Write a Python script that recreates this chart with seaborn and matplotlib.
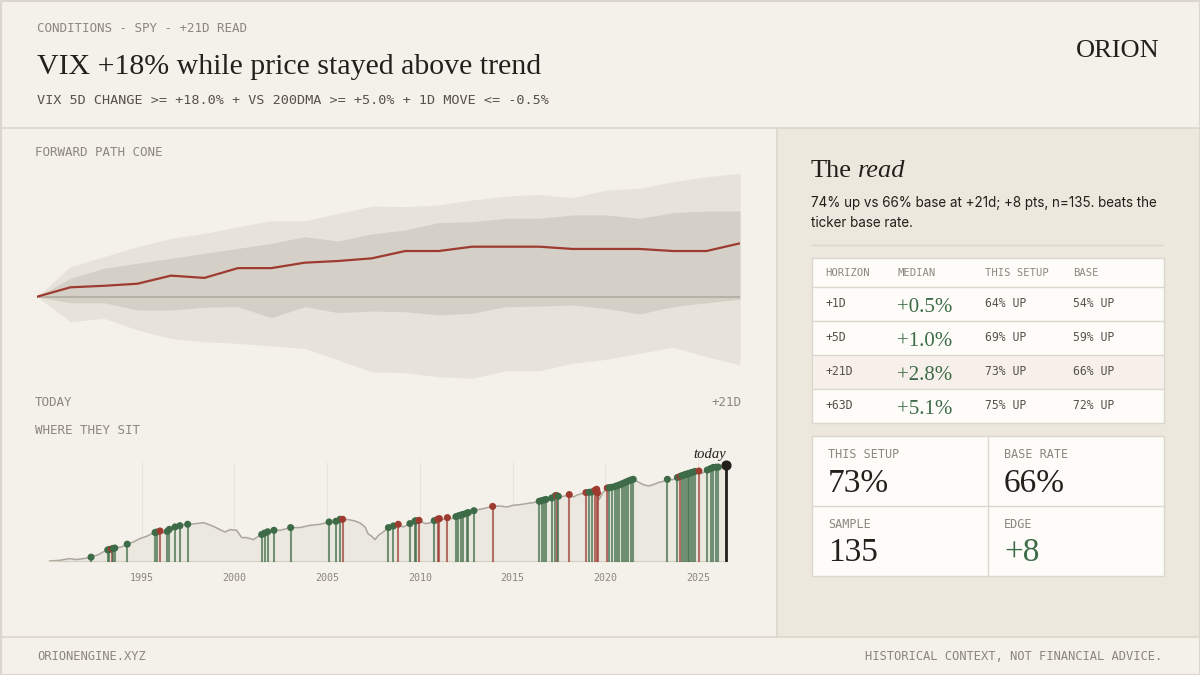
import matplotlib
matplotlib.use("Agg")
import matplotlib.pyplot as plt
from matplotlib.patches import Rectangle
import numpy as np
import seaborn as sns

sns.set_theme(style="white")

# forward path cone, % move from today, trading day 0..21
days = list(range(22))
cone_median = [0, 0.50, 0.58, 0.69, 1.12, 1.00, 1.52, 1.52, 1.81, 1.90, 2.04,
               2.43, 2.43, 2.66, 2.66, 2.66, 2.54, 2.54, 2.54, 2.43, 2.43, 2.84]
cone_p75 = [0, 0.98, 1.51, 1.78, 2.04, 2.31, 2.57, 2.84, 3.19, 2.96, 3.34,
            3.55, 3.94, 3.99, 4.17, 4.17, 4.35, 4.35, 4.17, 4.47, 4.56, 4.56]
cone_p25 = [0, -0.32, -0.32, -0.71, -0.71, -0.56, -0.53, -1.12, -0.53, -0.85, -0.76,
            -0.80, -0.97, -0.88, -0.53, -0.50, -0.44, -0.62, -0.92, -0.53, -0.32, -0.14]
cone_p90 = [0, 1.60, 2.13, 2.66, 3.10, 3.37, 3.72, 4.04, 4.04, 4.43, 4.82,
            4.79, 4.88, 5.14, 5.35, 5.44, 5.27, 5.67, 5.76, 6.12, 6.38, 6.56]
cone_p10 = [0, -1.33, -1.15, -1.77, -2.22, -2.39, -2.48, -2.62, -2.75, -3.37, -3.99,
            -4.04, -4.26, -4.34, -3.94, -3.94, -3.54, -3.33, -3.01, -2.69, -3.19, -3.63]

# price history (relative level)
price_years = [1990.02, 1990.6, 1991.1, 1991.5, 1991.85, 1992.2, 1992.66, 1993.1, 1993.56, 1993.9,
               1994.2, 1994.55, 1994.9, 1995.27, 1995.63, 1995.99, 1996.26, 1996.53, 1996.9, 1997.43,
               1997.97, 1998.32, 1998.59, 1998.86, 1999.22, 1999.49, 1999.76, 2000.12, 2000.39, 2000.66,
               2001.02, 2001.38, 2001.74, 2002.13, 2002.46, 2003.03, 2003.53, 2004.07, 2004.61, 2005.1,
               2005.47, 2005.69, 2005.83, 2006.14, 2006.5, 2006.77, 2007.04, 2007.2, 2007.4, 2007.58,
               2007.76, 2008.02, 2008.3, 2008.56, 2008.83, 2009.1, 2009.46, 2009.73, 2009.97, 2010.27,
               2010.54, 2010.81, 2011.04, 2011.26, 2011.47, 2011.71, 2011.98, 2012.34, 2012.7, 2012.97,
               2013.42, 2013.95, 2014.32, 2014.68, 2015.03, 2015.4, 2015.75, 2016.11, 2016.43, 2016.83,
               2017.1, 2017.33, 2017.55, 2017.82, 2018.05, 2018.27, 2018.53, 2018.95, 2019.26, 2019.53,
               2019.67, 2019.89, 2020.1, 2020.43, 2020.7, 2021.05, 2021.32, 2021.5, 2021.77, 2022.04,
               2022.31, 2022.58, 2022.85, 2023.12, 2023.34, 2023.66, 2023.93, 2024.29, 2024.65, 2025.0,
               2025.19, 2025.46, 2025.82, 2026.18, 2026.5]
price_level = [1.0, 1.7, 3.4, 2.4, 3.4, 4.4, 7.4, 11.7, 14.0, 15.0,
               17.7, 20.0, 23.4, 25.7, 29.0, 31.0, 28.4, 33.4, 35.7, 37.7,
               38.4, 39.4, 37.7, 35.7, 32.4, 30.0, 32.4, 31.7, 24.4, 24.4,
               22.4, 26.7, 30.0, 31.7, 31.7, 34.4, 34.4, 36.7, 37.7, 40.0,
               40.7, 42.7, 42.7, 42.4, 41.0, 39.0, 35.0, 28.4, 25.7, 22.4,
               26.7, 30.0, 34.4, 36.0, 37.7, 35.0, 38.4, 41.0, 41.7, 38.4,
               39.0, 41.7, 43.4, 42.4, 44.4, 43.4, 45.7, 47.7, 50.0, 51.7,
               53.4, 55.7, 56.0, 55.0, 56.7, 57.4, 58.4, 59.4, 60.7, 62.7,
               64.0, 66.7, 65.0, 66.0, 67.4, 65.0, 67.4, 69.4, 70.0, 72.7,
               62.7, 70.0, 74.0, 75.0, 76.7, 79.4, 81.7, 82.7, 80.0, 77.4,
               76.0, 77.4, 79.4, 80.7, 82.7, 82.4, 85.0, 87.4, 89.4, 91.7,
               88.4, 91.7, 94.7, 95.0, 96.7]

# past signal dates and whether +21d was up
event_years = [1992.27, 1993.17, 1993.25, 1993.38, 1993.47, 1993.55, 1994.22, 1995.72, 1995.81, 1995.99,
               1996.38, 1996.49, 1996.8, 1997.06, 1997.48, 2001.47, 2001.62, 2001.79, 2002.13, 2003.03,
               2005.1, 2005.47, 2005.69, 2005.83, 2008.3, 2008.57, 2008.83, 2009.46, 2009.73, 2009.79,
               2009.95, 2010.77, 2010.96, 2011.05, 2011.48, 2011.94, 2012.07, 2012.2, 2012.34, 2012.52,
               2012.61, 2012.91, 2013.92, 2016.43, 2016.56, 2016.68, 2016.79, 2017.1, 2017.3, 2017.37,
               2017.46, 2018.05, 2018.95, 2019.13, 2019.26, 2019.44, 2019.53, 2019.58, 2020.1, 2020.21,
               2020.34, 2020.52, 2020.61, 2020.75, 2020.88, 2021.0, 2021.12, 2021.24, 2021.37, 2021.5,
               2023.34, 2023.88, 2024.02, 2024.11, 2024.23, 2024.34, 2024.43, 2024.52, 2024.61, 2024.7,
               2024.82, 2025.04, 2025.49, 2025.67, 2025.81, 2025.96, 2026.08]
event_up = [1, 1, 1, 0, 1, 1, 1, 1, 1, 0,
            1, 1, 1, 1, 1, 1, 1, 1, 1, 1,
            1, 1, 1, 0, 1, 1, 0, 1, 1, 1,
            0, 1, 0, 0, 0, 1, 1, 1, 1, 1,
            1, 1, 0, 1, 1, 1, 1, 1, 1, 0,
            1, 0, 0, 1, 1, 0, 0, 0, 0, 1,
            1, 1, 1, 1, 1, 1, 1, 1, 1, 1,
            1, 1, 0, 1, 1, 1, 1, 1, 1, 1,
            1, 0, 1, 1, 1, 1, 1]
tick_years = [1995, 2000, 2005, 2010, 2015, 2020, 2025]

# table
horizons = ["+1D", "+5D", "+21D", "+63D"]
medians = ["+0.5%", "+1.0%", "+2.8%", "+5.1%"]
setup_up = ["64% UP", "69% UP", "73% UP", "75% UP"]
base_up = ["54% UP", "59% UP", "66% UP", "72% UP"]
stat_labels = ["THIS SETUP", "BASE RATE", "SAMPLE", "EDGE"]
stat_values = ["73%", "66%", "135", "+8"]

BG = "#f4f1ea"
PANEL = "#ece8de"
RULE = "#dcd7cc"
INK = "#23201c"
MUTED = "#8c877e"
SUB = "#56524b"
RED = "#9e3b30"
GREEN = "#3d6b47"
CONE_OUT = "#e7e3db"
CONE_IN = "#d4d0c8"
ZERO = "#b8b2a6"
PRICE = "#aca69c"
PRICE_FILL = "#ebe8e0"
CARD = "#fdfcf8"
HILITE = "#f7f0ea"
SERIF = "Liberation Serif"
MONO = "DejaVu Sans Mono"
SANS = "Inter"

W, H = 1200, 675
fig = plt.figure(figsize=(12, 6.75), dpi=100)
fig.patch.set_facecolor(BG)

# overlay in pixel coordinates for panels and text
ov = fig.add_axes([0, 0, 1, 1])
ov.set_xlim(0, W)
ov.set_ylim(H, 0)
ov.axis("off")
ov.set_zorder(0)


def box(x0, y0, x1, y1, fc, ec="none", lw=1.0):
    ov.add_patch(Rectangle((x0, y0), x1 - x0, y1 - y0, facecolor=fc, edgecolor=ec, linewidth=lw))


def hline(y, x0, x1, lw=1.0):
    ov.plot([x0, x1], [y, y], color=RULE, lw=lw, solid_capstyle="butt")


def mono(x, y, s, size=9, color=MUTED, ha="left"):
    ov.text(x, y, s, family=MONO, fontsize=size, color=color, ha=ha, va="center")


box(777, 128, W, 637, PANEL)
hline(127.5, 0, W, 1.2)
hline(637, 0, W, 1.2)
ov.plot([776.5, 776.5], [127.5, 637], color=RULE, lw=1.2)
box(0.5, 0.5, W - 0.5, H - 0.5, "none", RULE, 1.5)

# header
mono(37, 28, "CONDITIONS - SPY - +21D READ", 9)
ov.text(37, 74, "VIX +18% while price stayed above trend", family=SERIF, fontsize=21.5,
        color=INK, va="baseline")
mono(37, 101, "VIX 5D CHANGE >= +18.0% + VS 200DMA >= +5.0% + 1D MOVE <= -0.5%", 9.7, SUB)
ov.text(1160, 57, "ORION", family=SERIF, fontsize=19, color=INK, ha="right", va="baseline")

# footer
mono(37, 657, "ORIONENGINE.XYZ", 8.7)
mono(1162, 657, "HISTORICAL CONTEXT, NOT FINANCIAL ADVICE.", 8.7, ha="right")

# left panel labels
mono(35, 153, "FORWARD PATH CONE", 9)
mono(35, 403, "TODAY", 9)
mono(741, 403, "+21D", 9, ha="right")
mono(35, 430, "WHERE THEY SIT", 9)

# the read
t_the = ov.text(811, 177, "The", family=SERIF, fontsize=19, color=INK, va="baseline")
ov.annotate("read", xy=(1, 0), xycoords=t_the, xytext=(4, 0), textcoords="offset points",
            family=SERIF, style="italic", fontsize=19, color=INK, va="bottom")
ov.text(811, 207, "74% up vs 66% base at +21d; +8 pts, n=135. beats the", family=SANS,
        fontsize=9.7, color=INK, va="baseline")
ov.text(811, 227, "ticker base rate.", family=SANS, fontsize=9.7, color=INK, va="baseline")
hline(245, 811, 1163)

# table card
row_edges = [287, 320.5, 354.5, 388.5, 423]
box(812, 258, 1164, 423, CARD, RULE)
box(812.5, row_edges[2], 1163.5, row_edges[3], HILITE)
for y in row_edges[:-1]:
    hline(y, 812, 1164)
cols = [825, 897, 985, 1073]
for x, s in zip(cols, ["HORIZON", "MEDIAN", "THIS SETUP", "BASE"]):
    mono(x, 273, s, 7.6)
for i in range(4):
    yc = (row_edges[i] + row_edges[i + 1]) / 2
    mono(cols[0], yc, horizons[i], 8.3, SUB)
    ov.text(cols[1], yc + 8, medians[i], family=SERIF, fontsize=15, color=GREEN, va="baseline")
    mono(cols[2], yc, setup_up[i], 8.3, SUB)
    mono(cols[3], yc, base_up[i], 8.3, SUB)

# stats card
box(812, 436, 1164, 576, CARD, RULE)
hline(506, 812, 1164)
ov.plot([988, 988], [436, 576], color=RULE, lw=1.0)
stat_pos = [(828, 455, 492), (1004, 455, 492), (828, 525, 561), (1004, 525, 561)]
for (x, yl, yv), lab, val in zip(stat_pos, stat_labels, stat_values):
    mono(x, yl, lab, 8.5)
    ov.text(x, yv, val, family=SERIF, fontsize=24, va="baseline",
            color=GREEN if lab == "EDGE" else INK)

# forward path cone
ax1 = fig.add_axes([37 / W, 1 - 390.7 / H, 703 / W, 225.6 / H])
ax1.set_zorder(1)
ax1.set_facecolor("none")
ax1.fill_between(days, cone_p10, cone_p90, color=CONE_OUT, lw=0)
ax1.fill_between(days, cone_p25, cone_p75, color=CONE_IN, lw=0)
ax1.axhline(0, color=ZERO, lw=1.4, zorder=2)
sns.lineplot(x=days, y=cone_median, ax=ax1, color=RED, linewidth=1.6, zorder=3)
ax1.set_xlim(0, 21)
ax1.set_ylim(-5, 7)
ax1.axis("off")

# where they sit
x_lo = 1995 - (141.7 - 37) / 18.55
x_hi = 1995 + (740 - 141.7) / 18.55
ax2 = fig.add_axes([37 / W, 1 - 562 / H, 703 / W, 117 / H])
ax2.set_zorder(1)
ax2.set_facecolor("none")
ax2.vlines(tick_years, 0, 100, color="#e8e4dc", lw=0.8, zorder=0)
ax2.fill_between(price_years, 0, price_level, color=PRICE_FILL, lw=0, zorder=1)
sns.lineplot(x=price_years, y=price_level, ax=ax2, color=PRICE, linewidth=1.1, zorder=2)
ax2.hlines(0, price_years[0], price_years[-1], color="#d6d1c5", lw=1.6, zorder=2)

ev_level = np.interp(event_years, price_years, price_level)
ev_col = [GREEN if u else RED for u in event_up]
ax2.vlines(event_years, 0, ev_level, colors=ev_col, lw=1.5, alpha=0.7, zorder=3)
sns.scatterplot(x=event_years, y=ev_level, hue=["up" if u else "down" for u in event_up],
                palette={"up": GREEN, "down": RED}, s=26, edgecolor="none", legend=False,
                ax=ax2, zorder=4)
ax2.vlines(price_years[-1], 0, price_level[-1], color=INK, lw=2, zorder=5)
ax2.scatter([price_years[-1]], [price_level[-1]], s=40, color=INK, zorder=6)
ax2.text(price_years[-1], price_level[-1] + 7, "today", family=SERIF, style="italic",
         fontsize=10.5, color=INK, ha="right", va="baseline")

ax2.set_xlim(x_lo, x_hi)
ax2.set_ylim(0, 117)
for sp in ax2.spines.values():
    sp.set_visible(False)
ax2.set_yticks([])
ax2.set_xticks(tick_years)
ax2.set_xticklabels([str(y) for y in tick_years], family=MONO, fontsize=7.2, color=MUTED)
ax2.tick_params(axis="x", length=0, pad=8)
ax2.set_xlabel("")
ax2.set_ylabel("")

fig.savefig("out.png", dpi=100, facecolor=BG)
